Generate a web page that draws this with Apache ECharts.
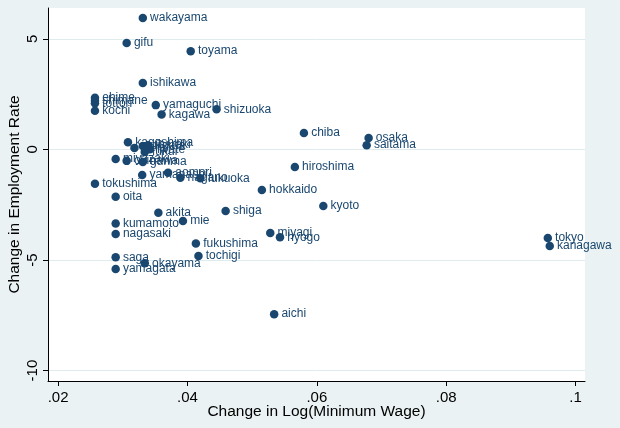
<!DOCTYPE html>
<html>
<head>
<meta charset="utf-8">
<script src="https://cdn.jsdelivr.net/npm/echarts@6/dist/echarts.min.js"></script>
<style>
  html, body { margin: 0; padding: 0; background: #eaf2f3; }
  #chart { width: 620px; height: 428px; }
</style>
</head>
<body>
<div id="chart"></div>
<script>
// prefecture names, change in log(min wage), change in employment rate
const prefectures = [
  'wakayama', 'gifu', 'toyama', 'ishikawa', 'ehime', 'shimane', 'tottori', 'kochi',
  'yamaguchi', 'shizuoka', 'kagawa', 'chiba', 'osaka', 'saitama', 'kagoshima', 'nara',
  'niigata', 'ibaraki', 'fukui', 'iwate', 'miyazaki', 'okinawa', 'gunma', 'yamanashi',
  'aomori', 'nagano', 'fukuoka', 'hiroshima', 'hokkaido', 'kyoto', 'shiga', 'tokushima',
  'oita', 'akita', 'mie', 'kumamoto', 'nagasaki', 'miyagi', 'hyogo', 'fukushima',
  'tochigi', 'saga', 'okayama', 'yamagata', 'aichi', 'tokyo', 'kanagawa'
];
const minWageChange = [
  0.0331, 0.0306, 0.0405, 0.0331, 0.0257, 0.0257, 0.0257, 0.0257,
  0.0351, 0.0445, 0.0360, 0.0580, 0.0680, 0.0677, 0.0308, 0.0318,
  0.0331, 0.0339, 0.0334, 0.0342, 0.0289, 0.0306, 0.0331, 0.0330,
  0.0370, 0.0389, 0.0420, 0.0566, 0.0515, 0.0610, 0.0459, 0.0257,
  0.0289, 0.0355, 0.0393, 0.0289, 0.0289, 0.0528, 0.0543, 0.0413,
  0.0417, 0.0289, 0.0334, 0.0289, 0.0534, 0.0957, 0.0960
];
const employmentChange = [
  5.94, 4.81, 4.44, 3.00, 2.33, 2.20, 2.08, 1.75,
  2.00, 1.81, 1.58, 0.74, 0.51, 0.19, 0.32, 0.06,
  0.15, 0.19, -0.12, 0.00, -0.44, -0.52, -0.57, -1.16,
  -1.06, -1.28, -1.31, -0.80, -1.84, -2.56, -2.79, -1.55,
  -2.14, -2.87, -3.24, -3.35, -3.83, -3.78, -3.97, -4.25,
  -4.82, -4.88, -5.15, -5.41, -7.45, -4.01, -4.37
];
const xTicks = [0.02, 0.04, 0.06, 0.08, 0.1];
const yTicks = [-10, -5, 0, 5];

const navy = '#1a476f';
const font = 'Liberation Sans, Arial, sans-serif';

const points = prefectures.map((name, i) => ({
  name: name,
  value: [minWageChange[i], employmentChange[i]]
}));

const chart = echarts.init(document.getElementById('chart'));
chart.setOption({
  backgroundColor: '#eaf2f3',
  animation: false,
  grid: {
    left: 48, right: 35, top: 8, bottom: 47,
    containLabel: false, outerBoundsMode: 'none',
    show: true, backgroundColor: '#ffffff', borderWidth: 0
  },
  xAxis: {
    type: 'value',
    min: 0.01844, max: 0.10145,
    name: 'Change in Log(Minimum Wage)',
    nameLocation: 'middle',
    nameGap: 23,
    nameMoveOverlap: false,
    nameTextStyle: { color: '#000', fontSize: 15.5, fontFamily: font },
    axisLine: { show: true, onZero: false, lineStyle: { color: '#000', width: 1 } },
    axisTick: { show: true, length: 5, customValues: xTicks, lineStyle: { color: '#000' } },
    axisLabel: {
      customValues: xTicks, margin: 9, color: '#000', fontSize: 15, fontFamily: font,
      formatter: v => String(+v.toFixed(2)).replace(/^0/, '')
    },
    splitLine: { show: false }
  },
  yAxis: {
    type: 'value',
    min: -10.47, max: 6.39,
    name: 'Change in Employment Rate',
    nameLocation: 'middle',
    nameGap: 25,
    nameMoveOverlap: false,
    nameTextStyle: { color: '#000', fontSize: 15.5, fontFamily: font },
    axisLine: { show: true, onZero: false, lineStyle: { color: '#000', width: 1 } },
    axisTick: { show: true, length: 5, customValues: yTicks, lineStyle: { color: '#000' } },
    axisLabel: {
      customValues: yTicks, rotate: 90, margin: 8, color: '#000', fontSize: 15, fontFamily: font
    },
    splitLine: { show: true, lineStyle: { color: '#e0ebee', width: 1 } }
  },
  series: [{
    type: 'scatter',
    data: points,
    symbolSize: 8.5,
    itemStyle: { color: navy, opacity: 1 },
    label: {
      show: true,
      position: 'right',
      distance: 3,
      formatter: p => p.name,
      color: navy,
      fontSize: 12,
      fontFamily: font
    },
    labelLayout: { hideOverlap: false }
  }]
});
</script>
</body>
</html>
